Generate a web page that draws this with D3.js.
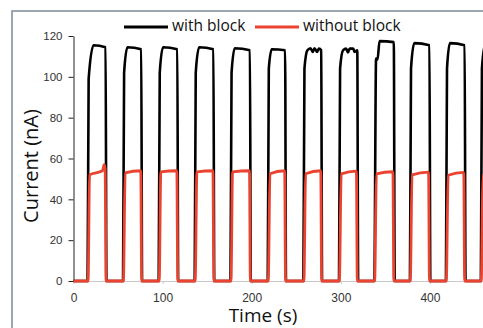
<!DOCTYPE html>
<html>
<head>
<meta charset="utf-8">
<script src="https://cdn.jsdelivr.net/npm/d3@7"></script>
<style>
  body { margin: 0; background: #fff; }
  svg { display: block; font-family: "Open Sans", sans-serif; }
</style>
</head>
<body>
<svg id="chart" width="483" height="328"></svg>
<script>
// axis ticks
const timeTicks = [0, 100, 200, 300, 400];
const currentTicks = [0, 20, 40, 60, 80, 100, 120];
const seriesNames = ['with block', 'without block'];
const seriesColors = ['#000000', '#ea4330'];

// "with block" pulses (s / nA)
const blockOn    = [15.8, 55.6, 95.6, 136.0, 176.2, 218.0, 258.0, 298.0, 337.6, 377.6, 418.0, 457.2];
const blockKneeT = [17.0, 56.8, 96.8, 137.2, 177.4, 219.2, 259.2, 299.2, 339.6, 378.8, 419.2, 458.4];
const blockKnee  = [99, 102, 102, 102, 102, 104, 104, 104, 109, 104, 104, 104];
const blockTopT  = [22.5, 60.5, 100.5, 141.0, 181.0, 222.5, 262.5, 302.5, 343.5, 382.5, 422.5, 462.0];
const blockTop   = [115.5, 114.5, 114.5, 114.5, 114.0, 113.5, 113.0, 113.0, 117.5, 116.5, 116.5, 116.0];
const blockOffT  = [36.0, 76.0, 116.5, 157.0, 198.0, 237.5, 278.0, 318.5, 359.5, 399.5, 439.0, 478.5];
const blockEnd   = [114.5, 113.5, 113.5, 113.5, 113.0, 113.0, 113.0, 113.0, 117.0, 115.5, 115.5, 115.0];
const blockDownT = [37.0, 77.0, 117.5, 158.0, 199.0, 238.5, 279.0, 319.5, 360.5, 400.5, 440.0, 479.5];
// small notches on a few plateaus
const blockExtraT = [266.0, 268.5, 270.5, 273.5, 275.5, 306.0, 308.0, 310.0, 314.0, 315.5, 341.2];
const blockExtra  = [114.0, 112.2, 114.0, 112.2, 113.8, 113.8, 112.0, 113.8, 113.8, 112.2, 108.5];

// "without block" pulses (s / nA)
const freeOn    = [16.4, 56.0, 96.2, 136.6, 176.8, 218.6, 258.6, 298.4, 338.0, 378.0, 418.4, 457.6];
const freeTopT  = [18.0, 58.0, 98.0, 138.5, 178.5, 220.5, 260.5, 300.5, 340.0, 380.0, 420.5, 459.5];
const freeTop   = [52.0, 53.0, 53.5, 53.5, 53.5, 52.5, 52.5, 52.5, 52.5, 52.0, 51.8, 52.0];
const freeOffT  = [35.5, 75.5, 116.0, 156.5, 197.5, 237.0, 277.5, 317.5, 358.5, 398.5, 438.0, 478.0];
const freeEnd   = [55.0, 54.0, 54.0, 54.0, 54.0, 54.0, 54.0, 53.8, 53.5, 53.3, 53.2, 53.0];
const freeDownT = [36.5, 76.5, 117.0, 157.5, 198.5, 238.0, 278.5, 318.5, 359.5, 399.5, 439.0, 479.0];
const freeExtraT = [32.5, 34.5];
const freeExtra  = [54.0, 57.0];

const svg = d3.select('#chart');

// outer frame
svg.append('rect')
  .attr('x', 12).attr('y', 11)
  .attr('width', 520).attr('height', 360)
  .attr('fill', 'none')
  .attr('stroke', '#7d8b9b')
  .attr('stroke-width', 1.5);

const x = d3.scaleLinear().domain([0, 500]).range([73.5, 519]);
const y = d3.scaleLinear().domain([0, 120]).range([281, 36]);

// x axis
const gx = svg.append('g')
  .attr('transform', 'translate(0,281)')
  .call(d3.axisBottom(x).tickValues(timeTicks).tickSize(3).tickSizeOuter(0).tickPadding(9));
gx.select('.domain').attr('stroke', '#c8c8c8');
gx.selectAll('.tick line').attr('stroke', '#c8c8c8');
gx.selectAll('.tick text').attr('fill', '#333').style('font-size', '12px');

// y axis
const gy = svg.append('g')
  .attr('transform', 'translate(73.5,0)')
  .call(d3.axisLeft(y).tickValues(currentTicks).tickSize(5).tickSizeOuter(0).tickPadding(6));
gy.select('.domain').attr('stroke', '#222');
gy.selectAll('.tick line').attr('stroke', '#222');
gy.selectAll('.tick text').attr('fill', '#333').style('font-size', '11.5px');

// axis titles
svg.append('text')
  .attr('x', 263).attr('y', 321.5)
  .attr('text-anchor', 'middle')
  .style('font-size', '19px')
  .attr('fill', '#111')
  .text('Time (s)');

svg.append('text')
  .attr('transform', 'translate(37.5,166)rotate(-90)')
  .attr('text-anchor', 'middle')
  .style('font-size', '20px')
  .attr('fill', '#111')
  .text('Current (nA)');

// build point lists from the pulse tables
function blockPoints() {
  const pts = [[0, 0]];
  blockOn.forEach((t, i) => {
    pts.push([t, 0], [blockKneeT[i], blockKnee[i]], [blockTopT[i], blockTop[i]],
             [blockOffT[i], blockEnd[i]], [blockDownT[i], 0]);
  });
  blockExtraT.forEach((t, i) => pts.push([t, blockExtra[i]]));
  return pts.sort((a, b) => a[0] - b[0]);
}

function freePoints() {
  const pts = [[0, 0]];
  freeOn.forEach((t, i) => {
    pts.push([t, 0], [freeTopT[i], freeTop[i]], [freeOffT[i], freeEnd[i]], [freeDownT[i], 0]);
  });
  freeExtraT.forEach((t, i) => pts.push([t, freeExtra[i]]));
  return pts.sort((a, b) => a[0] - b[0]);
}

const line = d3.line()
  .x(d => x(d[0]))
  .y(d => y(d[1]))
  .curve(d3.curveMonotoneX);

svg.append('path')
  .datum(blockPoints())
  .attr('d', line)
  .attr('fill', 'none')
  .attr('stroke', seriesColors[0])
  .attr('stroke-width', 2.6)
  .attr('stroke-linejoin', 'round');

svg.append('path')
  .datum(freePoints())
  .attr('d', line)
  .attr('fill', 'none')
  .attr('stroke', seriesColors[1])
  .attr('stroke-width', 2.8)
  .attr('stroke-linejoin', 'round');

// legend
const legendX = [124, 255];
const legend = svg.selectAll('g.legend')
  .data(seriesNames)
  .enter()
  .append('g')
  .attr('class', 'legend')
  .attr('transform', (d, i) => 'translate(' + legendX[i] + ',27)');

legend.append('line')
  .attr('x1', 0).attr('x2', 44)
  .attr('stroke', (d, i) => seriesColors[i])
  .attr('stroke-width', 3);

legend.append('text')
  .attr('x', 48).attr('y', 4)
  .style('font-size', '15.5px')
  .attr('fill', '#111')
  .text(d => d);
</script>
</body>
</html>
